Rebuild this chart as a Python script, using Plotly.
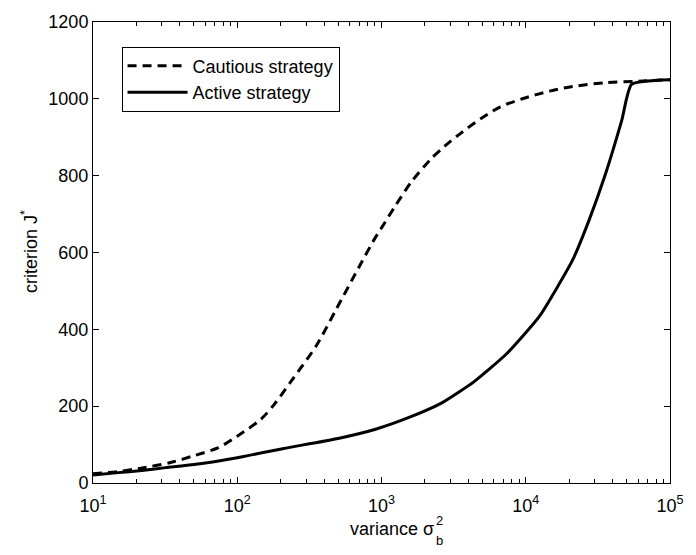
import plotly.graph_objects as go

# Cautious strategy (dashed)
sigma_cautious = [10, 15, 21, 35, 51, 74, 100, 145, 180, 245, 354, 485, 700, 910, 1000,
                  1250, 1620, 2220, 2730, 3390, 4870, 6670, 9600, 14600, 21100, 35600,
                  60300, 100000]
J_cautious = [24, 30, 38, 54, 72, 92, 122, 165, 204, 273, 358, 452, 563, 640, 664,
              722, 785, 845, 876, 905, 948, 979, 1001, 1020, 1032, 1042,
              1046, 1050]

# Active strategy (solid)
sigma_active = [10, 15, 21, 32, 50, 100, 210, 500, 910, 1535, 2600, 4390, 7400, 12500,
                21100, 27400, 35600, 46300, 54200, 100000]
J_active = [21, 27, 32, 40, 48, 66, 90, 116, 140, 170, 208, 264, 337, 435,
            580, 683, 803, 944, 1038, 1050]

x_tickvals = [10, 100, 1000, 10000, 100000]
x_ticktext = ["10<sup>1</sup>", "10<sup>2</sup>", "10<sup>3</sup>", "10<sup>4</sup>", "10<sup>5</sup>"]
y_tickvals = [0, 200, 400, 600, 800, 1000, 1200]

FONT = "Liberation Sans, Arial, Helvetica, sans-serif"
FS = 18

fig = go.Figure()
fig.add_trace(go.Scatter(x=sigma_cautious, y=J_cautious, mode="lines",
                         name="Cautious strategy",
                         line=dict(color="black", width=3, dash="9px,6px",
                                   shape="spline", smoothing=0.8)))
fig.add_trace(go.Scatter(x=sigma_active, y=J_active, mode="lines",
                         name="Active strategy",
                         line=dict(color="black", width=3, shape="spline",
                                   smoothing=0.5)))

W, H = 696, 555
L, R, T, B = 93, 17, 14, 72
pw = W - L - R
ph = H - T - B

def px_x(p):
    return (p - L) / pw

def px_y(p):
    return (H - B - p) / ph

fig.update_layout(
    width=W, height=H,
    margin=dict(l=L, r=R, t=T, b=B),
    paper_bgcolor="white", plot_bgcolor="white",
    font=dict(family=FONT, size=FS, color="black"),
    showlegend=True,
    legend=dict(x=px_x(122), y=px_y(39), xanchor="left", yanchor="top",
                bgcolor="white", bordercolor="black", borderwidth=1,
                font=dict(size=FS, family=FONT), itemwidth=60,
                tracegroupgap=0),
    xaxis=dict(type="log", range=[1, 5], tickvals=x_tickvals, ticktext=x_ticktext,
               ticks="inside", ticklen=6, tickcolor="black", showline=True,
               linecolor="black", linewidth=1, mirror="ticks", showgrid=False,
               zeroline=False, tickfont=dict(size=FS), ticklabelstandoff=6,
               minor=dict(ticks="inside", ticklen=4, tickcolor="black", dtick="D1",
                          showgrid=False)),
    yaxis=dict(range=[0, 1200], tickvals=y_tickvals, ticks="inside", ticklen=6,
               tickcolor="black", showline=True, linecolor="black", linewidth=1,
               mirror="ticks", showgrid=False, zeroline=False, tickfont=dict(size=FS)),
)

ann_font = dict(family=FONT, size=FS, color="black")
fig.add_annotation(text="variance σ", xref="paper", yref="paper",
                   x=px_x(441), y=px_y(530), xanchor="right", yanchor="middle",
                   showarrow=False, font=ann_font)
fig.add_annotation(text="2", xref="paper", yref="paper",
                   x=px_x(439), y=px_y(521), xanchor="left", yanchor="middle",
                   showarrow=False, font=dict(family=FONT, size=13, color="black"))
fig.add_annotation(text="b", xref="paper", yref="paper",
                   x=px_x(439), y=px_y(541), xanchor="left", yanchor="middle",
                   showarrow=False, font=dict(family=FONT, size=13, color="black"))
fig.add_annotation(text="criterion J<sup>*</sup>", xref="paper", yref="paper",
                   x=px_x(28), y=px_y(247), xanchor="center", yanchor="middle",
                   textangle=-90, showarrow=False, font=ann_font)

fig.write_html("out.html")
